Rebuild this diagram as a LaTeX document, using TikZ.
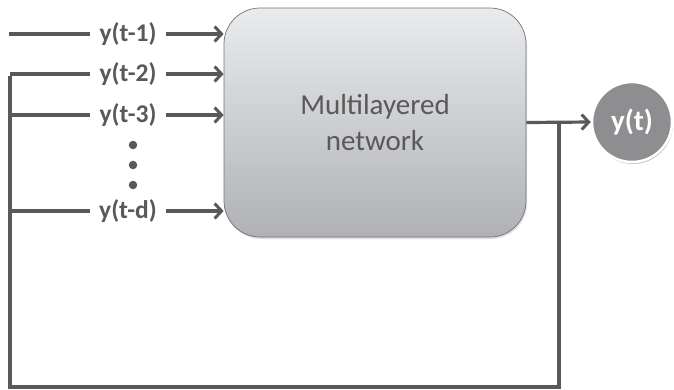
\documentclass[tikz,border=0pt]{standalone}
\usepackage{fontspec}
\setmainfont{Carlito}
\usetikzlibrary{arrows.meta,shadows}
\definecolor{lc}{HTML}{595959}
\definecolor{btop}{HTML}{EAEBED}
\definecolor{bbot}{HTML}{B0B1B4}
\definecolor{cfill}{HTML}{8E8E90}
\begin{document}
\begin{tikzpicture}[x=1pt,y=-1pt,
  conn/.style={draw=lc,line width=3.2pt},
  arr/.style={conn,-{Straight Barb[length=7pt,width=15pt,line width=3pt]}},
  lbl/.style={font=\fontsize{25.5}{28}\selectfont\bfseries,text=lc,inner xsep=9pt,inner ysep=0pt},
  netbox/.style={draw=gray!90!black,line width=0.7pt,rounded corners=36pt,top color=btop,bottom color=bbot,
    minimum width=302pt,minimum height=229pt,align=center,text=lc,
    font=\fontsize{29}{36}\selectfont,drop shadow={opacity=0.25,shadow xshift=1pt,shadow yshift=-2pt}},
  outc/.style={circle,fill=cfill,draw=white,line width=2.5pt,minimum size=80pt,inner sep=0pt,
    text=white,font=\fontsize{29}{30}\selectfont\bfseries,
    drop shadow={opacity=0.45,shadow xshift=1pt,shadow yshift=-2pt}},
  dot/.style={circle,fill=lc,inner sep=0pt,minimum size=8.5pt}]
\useasboundingbox (0,0) rectangle (674,389);
\node[netbox] (box) at (375,122.5) {Multilayered\\network};
\node[outc] (out) at (632,122) {y(t)};
\node[lbl] (l1) at (128,34) {y(t-1)};
\node[lbl] (l2) at (128,74) {y(t-2)};
\node[lbl] (l3) at (128,115) {y(t-3)};
\node[lbl] (ld) at (128,211) {y(t-d)};
\node[dot] (d1) at (133,145) {};
\node[dot] (d2) at (133,165) {};
\node[dot] (d3) at (133,185) {};
\coordinate (s1) at (9,34);
\coordinate (fb2) at (10,74);
\coordinate (fb3) at (10,115);
\coordinate (fbd) at (10,211);
\coordinate (cbl) at (10,387);
\coordinate (cbr) at (559,387);
\coordinate (tap) at (559,122);
% inputs
\draw[conn] (s1) -- (l1.west);
\draw[conn] (fb2) -- (l2.west);
\draw[conn] (fb3) -- (l3.west);
\draw[conn] (fbd) -- (ld.west);
\draw[arr] (l1.east) -- (l1.east -| box.west);
\draw[arr] (l2.east) -- (l2.east -| box.west);
\draw[arr] (l3.east) -- (l3.east -| box.west);
\draw[arr] (ld.east) -- (ld.east -| box.west);
% output
\draw[arr] (box.east) -- (out.west);
% feedback
\draw[conn,line join=miter] (tap) -- (cbr) -- (cbl) -- ([yshift=-1.6pt]fb2);
\end{tikzpicture}
\end{document}
